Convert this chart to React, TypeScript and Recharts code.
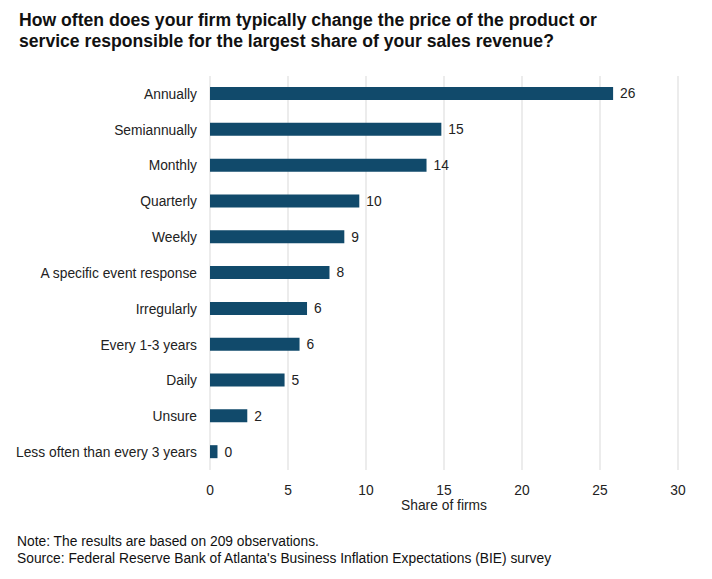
import React from 'react';
import { BarChart, Bar, XAxis, YAxis, CartesianGrid, LabelList } from 'recharts';

const categories = [
  'Annually',
  'Semiannually',
  'Monthly',
  'Quarterly',
  'Weekly',
  'A specific event response',
  'Irregularly',
  'Every 1-3 years',
  'Daily',
  'Unsure',
  'Less often than every 3 years',
];
const shares = [25.84, 14.83, 13.88, 9.57, 8.61, 7.66, 6.22, 5.74, 4.78, 2.39, 0.48];
const xTicks = [0, 5, 10, 15, 20, 25, 30];

const title1 = 'How often does your firm typically change the price of the product or';
const title2 = 'service responsible for the largest share of your sales revenue?';
const note = 'Note: The results are based on 209 observations.';
const source = "Source: Federal Reserve Bank of Atlanta's Business Inflation Expectations (BIE) survey";
const axisTitle = 'Share of firms';

const data = categories.map((name, i) => ({ name, value: shares[i] }));

const FONT = '"Liberation Sans", Arial, sans-serif';
const BAR_COLOR = '#114a6b';
const FS = 13.8;

export default function App() {
  return (
    <div style={{ position: 'absolute', left: 0, top: 0, width: 712, height: 579, background: '#fff', fontFamily: FONT }}>
      <div style={{ position: 'absolute', left: 19, top: 10, fontSize: 17.6, fontWeight: 'bold', lineHeight: '21px', color: '#111', whiteSpace: 'nowrap' }}>
        <div>{title1}</div>
        <div>{title2}</div>
      </div>
      <BarChart
        width={712}
        height={579}
        data={data}
        layout="vertical"
        margin={{ top: 76, right: 34, bottom: 79, left: 0 }}
        barCategoryGap={0}
      >
        <CartesianGrid horizontal={false} vertical={true} stroke="#d9d9d9" />
        <XAxis
          type="number"
          domain={[0, 30]}
          ticks={xTicks}
          axisLine={false}
          tickLine={false}
          tickMargin={9}
          height={30}
          interval={0}
          tick={{ fontSize: FS, fill: '#222', fontFamily: FONT }}
        />
        <YAxis
          type="category"
          dataKey="name"
          width={210}
          axisLine={false}
          tickLine={false}
          tickMargin={7}
          interval={0}
          tick={{ fontSize: FS, fill: '#222', fontFamily: FONT }}
        />
        <Bar dataKey="value" fill={BAR_COLOR} barSize={13} isAnimationActive={false}>
          <LabelList
            dataKey="value"
            position="right"
            offset={7}
            formatter={(v: number) => String(Math.round(v))}
            style={{ fontSize: FS, fill: '#222', fontFamily: FONT }}
          />
        </Bar>
      </BarChart>
      <div style={{ position: 'absolute', left: 344, width: 200, textAlign: 'center', top: 498, fontSize: FS, color: '#222' }}>{axisTitle}</div>
      <div style={{ position: 'absolute', left: 17, top: 533, fontSize: 13.8, lineHeight: '17px', color: '#111', whiteSpace: 'nowrap' }}>
        <div>{note}</div>
        <div>{source}</div>
      </div>
    </div>
  );
}
